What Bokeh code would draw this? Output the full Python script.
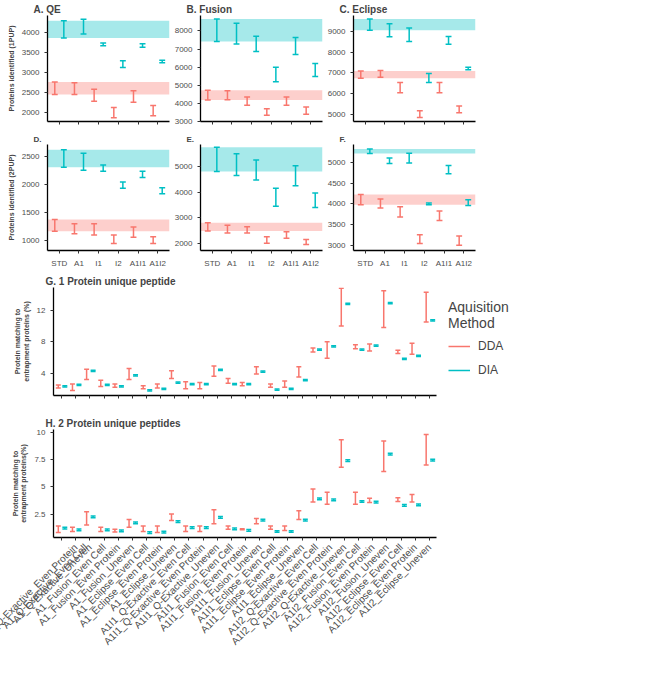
from bokeh.plotting import figure
from bokeh.layouts import column, row
from bokeh.models import BoxAnnotation, Title, FixedTicker, Legend, LegendItem, Range1d
from bokeh.embed import file_html
from bokeh.resources import INLINE
import math

RED = "#F8766D"
TEAL = "#00BFC4"
FONT = "Liberation Sans"

groups = ["STD", "A1", "I1", "I2", "A1I1", "A1I2"]

A_dda_lo = [2450, 2450, 2280, 1870, 2260, 1920]
A_dda_hi = [2760, 2740, 2580, 2130, 2540, 2180]
A_dia_lo = [3850, 3950, 3660, 3120, 3620, 3240]
A_dia_hi = [4280, 4320, 3730, 3290, 3710, 3300]

B_dda_lo = [4180, 4200, 3900, 3350, 3900, 3400]
B_dda_hi = [4730, 4700, 4350, 3700, 4350, 3800]
B_dia_lo = [7410, 7280, 6870, 5200, 6700, 5480]
B_dia_hi = [8650, 8420, 7700, 6000, 7630, 6200]

C_dda_lo = [6750, 6800, 6050, 4870, 6050, 5100]
C_dda_hi = [7100, 7120, 6550, 5200, 6550, 5420]
C_dia_lo = [9050, 8730, 8510, 6550, 8370, 7150]
C_dia_hi = [9580, 9350, 9150, 6980, 8750, 7280]

D_dda_lo = [1165, 1120, 1100, 950, 1060, 950]
D_dda_hi = [1375, 1300, 1300, 1100, 1240, 1070]
D_dia_lo = [2300, 2250, 2230, 1930, 2120, 1830]
D_dia_hi = [2610, 2550, 2340, 2040, 2230, 1940]

E_dda_lo = [2480, 2400, 2400, 2000, 2200, 1950]
E_dda_hi = [2800, 2700, 2650, 2250, 2450, 2150]
E_dia_lo = [4800, 4650, 4470, 3450, 4250, 3400]
E_dia_hi = [5750, 5500, 5250, 4150, 5030, 3960]

F_dda_lo = [3980, 3900, 3680, 3040, 3600, 3000]
F_dda_hi = [4230, 4120, 3930, 3250, 3830, 3220]
F_dia_lo = [5220, 4980, 4990, 3980, 4730, 3960]
F_dia_hi = [5330, 5110, 5230, 4020, 4930, 4100]

conditions = []
for g in ["A1", "A1I1", "A1I2"]:
    for inst in ["Q-Exactive", "Fusion", "Eclipse"]:
        for d in ["Even Cell", "Even Protein", "Uneven"]:
            conditions.append(f"{g}_{inst}_{d}")

G_dda_lo = [2.1, 1.8, 3.2, 2.3, 2.2, 3.2, 2.0, 2.1, 3.3, 2.0, 2.0, 3.6, 2.7, 2.4, 3.9, 2.2, 2.2, 3.5,
            6.7, 5.9, 10.0, 7.1, 6.8, 9.8, 6.5, 6.4, 10.5]
G_dda_hi = [2.5, 2.6, 4.5, 3.1, 2.6, 4.6, 2.4, 2.6, 4.3, 2.9, 2.8, 4.9, 3.3, 2.8, 4.8, 2.6, 3.0, 4.8,
            7.2, 8.0, 14.8, 7.6, 7.7, 14.5, 6.9, 7.8, 14.3]
G_dia = [2.3, 2.5, 4.3, 2.5, 2.3, 3.7, 1.8, 2.0, 2.8, 2.6, 2.6, 4.4, 2.6, 2.6, 4.2, 1.9, 2.0, 3.1,
         7.0, 7.4, 12.8, 7.0, 7.5, 12.9, 5.8, 6.2, 10.7]

H_dda_lo = [0.8, 0.9, 1.5, 0.9, 0.85, 1.3, 0.9, 0.8, 1.9, 0.9, 0.9, 1.6, 1.1, 1.05, 1.6, 1.1, 1.0, 2.0,
            3.6, 3.4, 6.8, 3.4, 3.55, 6.4, 3.65, 3.6, 7.0]
H_dda_hi = [1.4, 1.3, 2.7, 1.3, 1.1, 2.0, 1.4, 1.4, 2.5, 1.4, 1.4, 2.9, 1.4, 1.15, 2.1, 1.4, 1.4, 2.8,
            4.8, 4.5, 9.3, 4.5, 3.95, 9.2, 4.0, 4.3, 9.8]
H_dia = [1.2, 1.05, 2.25, 1.05, 0.95, 1.7, 0.8, 0.85, 1.8, 1.25, 1.25, 2.2, 1.15, 1.0, 1.95, 0.9, 0.9, 1.95,
         3.9, 3.8, 7.4, 3.65, 3.6, 8.0, 3.3, 3.35, 7.45]
DIA_HALF = 0.08


def style(p, font_size="8px"):
    p.toolbar_location = None
    p.xgrid.visible = False
    p.ygrid.visible = False
    p.outline_line_color = None
    for ax in [p.xaxis[0], p.yaxis[0]]:
        ax.axis_line_color = "black"
        ax.axis_line_width = 1.3
        ax.major_tick_line_color = "#333333"
        ax.major_tick_in = 0
        ax.major_tick_out = 3
        ax.minor_tick_line_color = None
        ax.major_label_text_color = "#4D4D4D"
        ax.major_label_text_font = FONT
        ax.major_label_text_font_size = font_size
        ax.axis_label_text_font = FONT
        ax.axis_label_text_font_style = "bold"
        ax.axis_label_text_font_size = "7px"
        ax.axis_label_standoff = 4


def errbars(p, xs, lo, hi, color, cap):
    r = p.segment(x0=xs, x1=xs, y0=lo, y1=hi, line_color=color, line_width=1.5)
    p.segment(x0=[x - cap / 2 for x in xs], x1=[x + cap / 2 for x in xs], y0=lo, y1=lo,
              line_color=color, line_width=1.5)
    p.segment(x0=[x - cap / 2 for x in xs], x1=[x + cap / 2 for x in xs], y0=hi, y1=hi,
              line_color=color, line_width=1.5)
    return r


def add_title(p, text, size, offset):
    t = Title(text=text, align="left", offset=offset, text_font=FONT, text_font_style="bold",
              text_font_size=size, standoff=2)
    p.add_layout(t, "above")


def panel(letter, title, dlo, dhi, ilo, ihi, yr, yticks, ylabel, show_x, left):
    p = figure(output_backend="svg", toolbar_location=None, frame_width=122, frame_height=106,
               x_range=Range1d(0.4, 6.6), y_range=Range1d(*yr),
               min_border_left=left, min_border_right=2, min_border_top=4 if show_x else 2,
               min_border_bottom=22 if show_x else 10)
    style(p)
    p.add_layout(BoxAnnotation(bottom=dlo[0], top=dhi[0], fill_color=RED, fill_alpha=0.35,
                               line_color=None, level="underlay"))
    p.add_layout(BoxAnnotation(bottom=ilo[0], top=ihi[0], fill_color=TEAL, fill_alpha=0.35,
                               line_color=None, level="underlay"))
    xs = list(range(1, 7))
    errbars(p, [x - 0.23 for x in xs], dlo, dhi, RED, 0.3)
    errbars(p, [x + 0.23 for x in xs], ilo, ihi, TEAL, 0.3)
    p.xaxis.ticker = FixedTicker(ticks=xs)
    p.xaxis.major_label_overrides = {i + 1: (g if show_x else "") for i, g in enumerate(groups)}
    p.yaxis.ticker = FixedTicker(ticks=yticks)
    if ylabel:
        p.yaxis.axis_label = ylabel
    text = letter + ".      " + title if title else letter + "."
    add_title(p, text, "10px" if title else "8px", -14)
    return p


pA = panel("A", "QE", A_dda_lo, A_dda_hi, A_dia_lo, A_dia_hi, (1780, 4410),
           [2000, 2500, 3000, 3500, 4000], "Proteins identified (1PUP)", False, 47)
pB = panel("B", "Fusion", B_dda_lo, B_dda_hi, B_dia_lo, B_dia_hi, (3000, 8850),
           [3000, 4000, 5000, 6000, 7000, 8000], None, False, 26)
pC = panel("C", "Eclipse", C_dda_lo, C_dda_hi, C_dia_lo, C_dia_hi, (4680, 9750),
           [5000, 6000, 7000, 8000, 9000], None, False, 26)
pD = panel("D", None, D_dda_lo, D_dda_hi, D_dia_lo, D_dia_hi, (825, 2705),
           [1000, 1500, 2000, 2500], "Proteins identified (2PUP)", True, 47)
pE = panel("E", None, E_dda_lo, E_dda_hi, E_dia_lo, E_dia_hi, (1717, 5860),
           [2000, 3000, 4000, 5000], None, True, 26)
pF = panel("F", None, F_dda_lo, F_dda_hi, F_dia_lo, F_dia_hi, (2870, 5440),
           [3000, 3500, 4000, 4500, 5000], None, True, 26)


def wide(letter, title, dlo, dhi, dia, yr, yticks, show_x, top, bottom, legend):
    p = figure(output_backend="svg", toolbar_location=None, frame_width=383, frame_height=108,
               x_range=Range1d(0.43, 27.5), y_range=Range1d(*yr),
               min_border_left=53, min_border_right=2, min_border_top=top, min_border_bottom=bottom)
    style(p)
    xs = list(range(1, len(conditions) + 1))
    r1 = errbars(p, [x - 0.23 for x in xs], dlo, dhi, RED, 0.35)
    r2 = errbars(p, [x + 0.23 for x in xs], [v - DIA_HALF for v in dia], [v + DIA_HALF for v in dia],
                 TEAL, 0.35)
    p.xaxis.ticker = FixedTicker(ticks=xs)
    p.xaxis.major_label_overrides = {i + 1: (c if show_x else "") for i, c in enumerate(conditions)}
    if show_x:
        p.xaxis.major_label_orientation = math.pi / 4
        p.xaxis.major_label_text_font_size = "10px"
    p.yaxis.ticker = FixedTicker(ticks=yticks)
    p.yaxis.axis_label = "Protein matching to\nentrapment proteins" + (" (%)" if letter == "G" else "(%)")
    add_title(p, letter + ".       " + title, "10px", -8)
    if legend:
        lg = Legend(items=[LegendItem(label="DDA", renderers=[r1]), LegendItem(label="DIA", renderers=[r2])],
                    title="Aquisition\nMethod", location="top_left", border_line_color=None,
                    background_fill_alpha=0, label_text_font=FONT, label_text_font_size="12px",
                    title_text_font=FONT, title_text_font_size="14px", title_text_font_style="normal",
                    glyph_width=22, label_standoff=8, spacing=4, margin=12)
        p.add_layout(lg, "right")
    else:
        p.min_border_right = 190
    return p


pG = wide("G", "1 Protein unique peptide", G_dda_lo, G_dda_hi, G_dia, (1.15, 14.9),
          [4, 8, 12], False, 14, 14, True)
pH = wide("H", "2 Protein unique peptides", H_dda_lo, H_dda_hi, H_dia, (0.35, 10.25),
          [2.5, 5.0, 7.5, 10.0], True, 20, 118, False)

layout = column(row(pA, pB, pC, spacing=0), row(pD, pE, pF, spacing=0), pG, pH, spacing=0)
open("out.html", "w").write(file_html(layout, INLINE))
